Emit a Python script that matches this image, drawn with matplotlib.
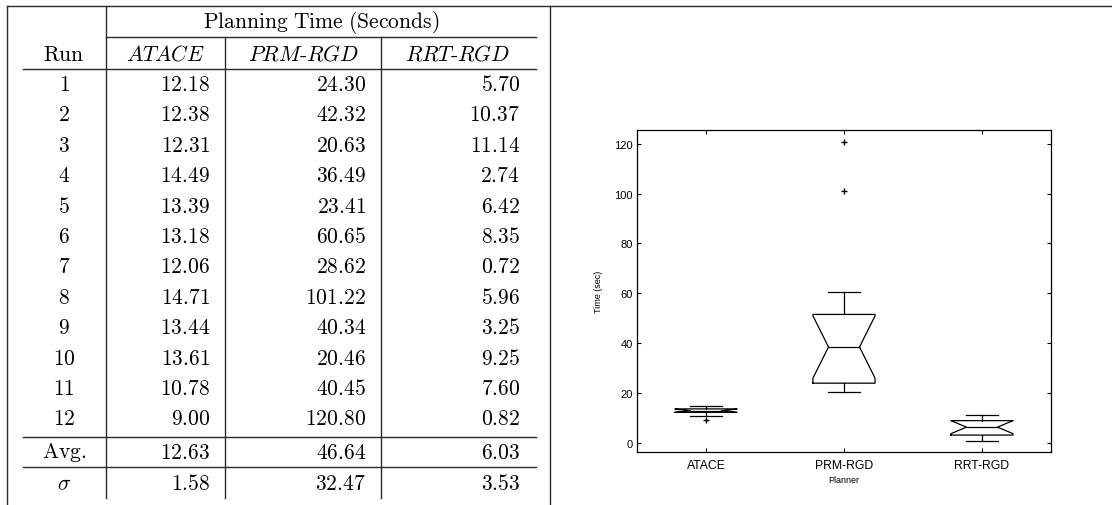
import matplotlib
matplotlib.use("Agg")
import matplotlib.pyplot as plt
import numpy as np

plt.rcParams['mathtext.fontset'] = 'cm'

runs = [1, 2, 3, 4, 5, 6, 7, 8, 9, 10, 11, 12]
planners = ["ATACE", "PRM-RGD", "RRT-RGD"]
atace = [12.18, 12.38, 12.31, 14.49, 13.39, 13.18, 12.06, 14.71, 13.44, 13.61, 10.78, 9.00]
prm_rgd = [24.30, 42.32, 20.63, 36.49, 23.41, 60.65, 28.62, 101.22, 40.34, 20.46, 40.45, 120.80]
rrt_rgd = [5.70, 10.37, 11.14, 2.74, 6.42, 8.35, 0.72, 5.96, 3.25, 9.25, 7.60, 0.82]
avg = [12.63, 46.64, 6.03]
sigma = [1.58, 32.47, 3.53]
yticks = [0, 20, 40, 60, 80, 100, 120]

W, H = 1112, 506
fig = plt.figure(figsize=(W / 100, H / 100), dpi=100)

# ---- table, drawn in pixel coords ----
ax_t = fig.add_axes([0, 0, 1, 1])
ax_t.set_xlim(0, W)
ax_t.set_ylim(H, 0)
ax_t.axis("off")

lc = "#2a2a2a"
lw = 1.0
ax_t.plot([7, W], [7, 7], color=lc, lw=lw)
ax_t.plot([7, 7], [7, H], color=lc, lw=lw)
ax_t.plot([550, 550], [7, H], color=lc, lw=lw)
ax_t.plot([106, 106], [7, 499], color=lc, lw=lw)
for xv in [225, 381]:
    ax_t.plot([xv, xv], [38, 499], color=lc, lw=lw)
ax_t.plot([106, 536], [38, 38], color=lc, lw=lw)
for yh in [70, 438, 468]:
    ax_t.plot([23, 536], [yh, yh], color=lc, lw=lw)

fs = 15.5
run_x = 64
col_c = [165, 303, 458]
col_r = [210, 366, 520]
ax_t.text(321, 22, r"$\mathrm{Planning\ Time\ (Seconds)}$", ha="center", va="center", fontsize=fs)
ax_t.text(run_x, 55, r"$\mathrm{Run}$", ha="center", va="center", fontsize=fs)
for i, p in enumerate(planners):
    lab = p.replace("-", r"\text{-}")
    ax_t.text(col_c[i], 54, "$" + lab + "$", ha="center", va="center", fontsize=fs)

cols = [atace, prm_rgd, rrt_rgd]
row_y = 85
dy = 30.4
for k, r in enumerate(runs):
    y = row_y + k * dy
    ax_t.text(run_x, y, "$%d$" % r, ha="center", va="center", fontsize=fs)
    for j in range(3):
        ax_t.text(col_r[j], y, "$%.2f$" % cols[j][k], ha="right", va="center", fontsize=fs)

ax_t.text(run_x, 453, r"$\mathrm{Avg.}$", ha="center", va="center", fontsize=fs)
ax_t.text(run_x, 484, r"$\sigma$", ha="center", va="center", fontsize=fs)
for j in range(3):
    ax_t.text(col_r[j], 453, "$%.2f$" % avg[j], ha="right", va="center", fontsize=fs)
    ax_t.text(col_r[j], 484, "$%.2f$" % sigma[j], ha="right", va="center", fontsize=fs)


# ---- notched box plot (matlab style quartiles) ----
def box_stats(vals, label):
    v = np.array(vals)
    q1, med, q3 = np.percentile(v, [25, 50, 75], method="hazen")
    iqr = q3 - q1
    lo = v[v >= q1 - 1.5 * iqr].min()
    hi = v[v <= q3 + 1.5 * iqr].max()
    ci = 1.57 * iqr / np.sqrt(len(v))
    return dict(med=med, q1=q1, q3=q3, whislo=lo, whishi=hi,
                fliers=v[(v < lo) | (v > hi)], cilo=med - ci, cihi=med + ci,
                label=label)


stats = [box_stats(c, p) for c, p in zip(cols, planners)]

ax = fig.add_axes([637 / W, 1 - 453 / H, (1051 - 637) / W, (453 - 131) / H])
bk = dict(color="black", lw=0.9)
ax.bxp(stats, shownotches=True, widths=0.45,
       boxprops=bk, whiskerprops=bk, capprops=bk,
       medianprops=dict(color="black", lw=0.9),
       flierprops=dict(marker="+", markeredgecolor="black", markersize=5, linestyle="none"))
ax.set_xlim(0.5, 3.5)
ax.set_ylim(-3.8, 125.6)
ax.set_yticks(yticks)
ax.tick_params(direction="in", length=3, width=0.8, top=True, right=True,
               labelsize=8, pad=3)
ax.tick_params(axis="x", labelsize=8.8, pad=5)
for t in ax.get_xticklabels() + ax.get_yticklabels():
    t.set_family("Liberation Sans")
for s in ax.spines.values():
    s.set_linewidth(0.9)
ax.set_ylabel("Time (sec)", fontsize=6.5, family="Liberation Sans", labelpad=8)
ax.set_xlabel("Planner", fontsize=6.5, family="Liberation Sans", labelpad=3)

fig.savefig("out.png", dpi=100)
